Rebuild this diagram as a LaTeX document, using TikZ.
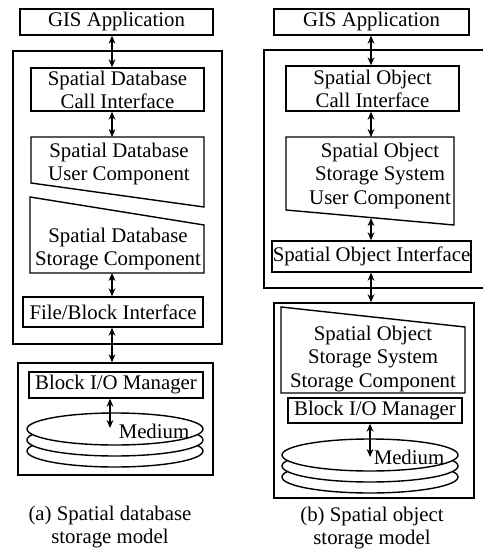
\documentclass[tikz,border=0pt]{standalone}
\usepackage{fontspec}
\setmainfont{Liberation Serif}
\usetikzlibrary{arrows.meta,fit}

\begin{document}
\begin{tikzpicture}[x=0.5pt,y=-0.5pt,
	font=\fontsize{10.4}{11.6}\selectfont,
	line width=0.7pt,
	box/.style={draw,rectangle,inner sep=0pt,label={[label text]center:#1}},
	box/.default={},
	label text/.style={align=center,inner sep=0pt},
	link/.style={line width=0.8pt,{Stealth[length=4pt,width=3.4pt]}-{Stealth[length=4pt,width=3.4pt]}},
	disk/.style={draw,fill=white}]
	\useasboundingbox (0,0) rectangle (482,550);

	% (a) spatial database storage model
	\coordinate (axisA) at (112,0);
	\node[box={GIS Application},fit={(20,9) (213,35)}] (gisA) {};
	\node[box,fit={(13,51) (222,344)}] (coreA) {};
	\node[box={Spatial Database\\Call Interface},fit={(31,68) (204,111)}] (callA) {};
	\draw (31,137) -- (204,137) -- (204,207) -- (31,183) -- cycle;
	\node[label text] (userA) at (119,164) {Spatial Database\\User Component};
	\coordinate (userAtop) at (112,137);
	\draw (30,197) -- (204,225) -- (204,273) -- (30,273) -- cycle;
	\node[label text] (storeA) at (118,249) {Spatial Database\\Storage Component};
	\coordinate (storeAbot) at (112,273);
	\node[box={File/Block Interface},fit={(23,297) (203,327)}] (fileA) {};
	\node[box,fit={(18,363) (213,475)}] (baseA) {};
	\node[box={Block I/O Manager},fit={(29,372) (203,398)}] (blockA) {};
	\foreach \dy in {22,11,0}
		\draw[disk] (115,429+\dy) ellipse [x radius=88, y radius=16];
	\node[inner sep=0pt] (medA) at (154,431) {Medium};
	\coordinate (spotA) at (110,428);
	\node[label text] (capA) at (110,527) {(a) Spatial database\\storage model};

	\draw[link] (gisA.south -| axisA) -- (callA.north -| axisA);
	\draw[link] (callA.south -| axisA) -- (userAtop);
	\draw[link] (storeAbot) -- (fileA.north -| axisA);
	\draw[link] (fileA.south -| axisA) -- (baseA.north -| axisA);
	\draw[link] (blockA.south -| spotA) -- (spotA);

	% (b) spatial object storage model
	\coordinate (axisB) at (371,0);
	\node[box={GIS Application},fit={(274,9) (469,35)}] (gisB) {};
	\node[box,fit={(264,50) (488,288)}] (coreB) {};
	\node[box={Spatial Object\\Call Interface},fit={(286,66) (459,111)}] (callB) {};
	\draw (286,137) -- (454,137) -- (454,225) -- (286,210) -- cycle;
	\node[label text] (userB) at (380,176) {Spatial Object\\Storage System\\User Component};
	\coordinate (userBtop) at (371,137);
	\coordinate (userBbot) at (371,218);
	\node[box={Spatial Object Interface},fit={(272,241) (471,272)}] (soiB) {};
	\node[box,fit={(274,303) (474,498)}] (baseB) {};
	\draw (281,307) -- (465,327) -- (465,393) -- (281,393) -- cycle;
	\node[label text] (storeB) at (373,359) {Spatial Object\\Storage System\\Storage Component};
	\node[box={Block I/O Manager},fit={(288,398) (462,423)}] (blockB) {};
	\foreach \dy in {22,11,0}
		\draw[disk] (370,455+\dy) ellipse [x radius=88, y radius=16];
	\node[inner sep=0pt] (medB) at (409,457) {Medium};
	\coordinate (spotB) at (370,457);
	\node[label text] (capB) at (372,528) {(b) Spatial object\\storage model};

	\draw[link] (gisB.south -| axisB) -- (callB.north -| axisB);
	\draw[link] (callB.south -| axisB) -- (userBtop);
	\draw[link] (userBbot) -- (soiB.north -| axisB);
	\draw[link] (soiB.south -| axisB) -- (baseB.north -| axisB);
	\draw[link] (blockB.south -| spotB) -- (spotB);
\end{tikzpicture}
\end{document}
